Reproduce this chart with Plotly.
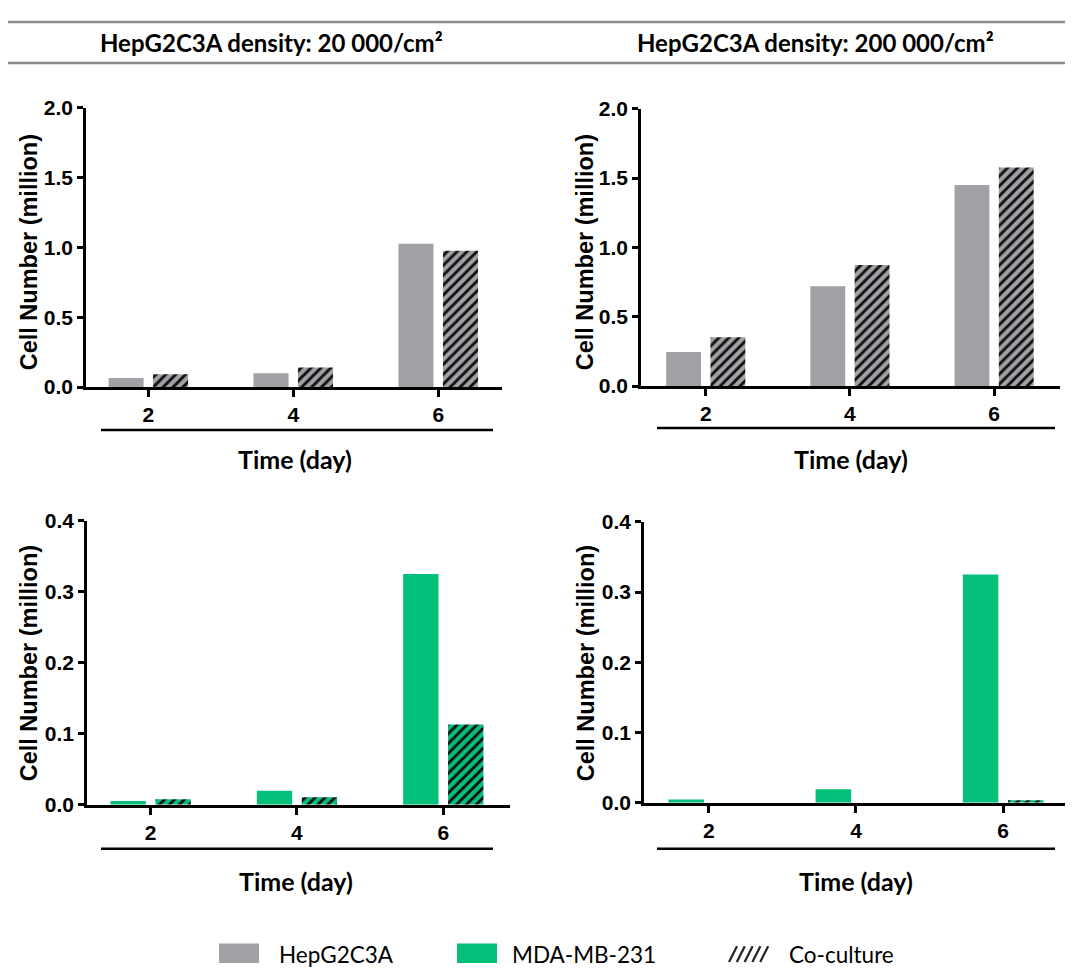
import plotly.graph_objects as go
from plotly.subplots import make_subplots

# page body keeps its default 8px margin, so the figure is drawn 8px in
W, H = 1057, 963
OFF = 8

days = ["2", "4", "6"]

# HepG2C3A cell number (million)
hep_mono_20k = [0.065, 0.098, 1.026]
hep_co_20k = [0.091, 0.140, 0.977]
hep_mono_200k = [0.246, 0.720, 1.450]
hep_co_200k = [0.352, 0.873, 1.577]

# MDA-MB-231 cell number (million)
mda_mono_20k = [0.0055, 0.0198, 0.325]
mda_co_20k = [0.0078, 0.0106, 0.113]
mda_mono_200k = [0.0046, 0.0194, 0.325]
mda_co_200k = [0.0, 0.0, 0.0037]

panel_titles = ["HepG2C3A density: 20 000/cm²", "HepG2C3A density: 200 000/cm²"]
legend_names = ["HepG2C3A", "MDA-MB-231", "Co-culture"]

GRAY = "#A1A1A6"
GREEN = "#05C07A"
ARIAL = "Liberation Sans"
CAL = "Lato"


def px(x):
    return (x - OFF) / W


def py(y):
    return 1 - (y - OFF) / H


fig = make_subplots(rows=2, cols=2)

panels = [
    (1, 1, hep_mono_20k, hep_co_20k, GRAY),
    (1, 2, hep_mono_200k, hep_co_200k, GRAY),
    (2, 1, mda_mono_20k, mda_co_20k, GREEN),
    (2, 2, mda_mono_200k, mda_co_200k, GREEN),
]

for row, col, mono, co, color in panels:
    fig.add_trace(
        go.Bar(x=days, y=mono, marker=dict(color=color, line=dict(width=0)),
               showlegend=False),
        row=row, col=col
    )
    fig.add_trace(
        go.Bar(x=days, y=co,
               marker=dict(color=color, line=dict(width=0),
                           pattern=dict(shape="/", fgcolor="#111111", bgcolor=color,
                                        size=7, solidity=0.42, fillmode="replace")),
               showlegend=False),
        row=row, col=col
    )

# pixel geometry of each panel: (x0, x1, y_top, y_bottom, xrange, ymax, dtick)
geom = {
    (1, 1): (86, 502, 98, 384, [-0.43, 2.44], 2.0, 0.5),
    (1, 2): (641, 1060, 99, 383, [-0.449, 2.457], 2.0, 0.5),
    (2, 1): (87, 510, 521, 812, [-0.435, 2.456], 0.4, 0.1),
    (2, 2): (644, 1065, 522, 810, [-0.44, 2.42], 0.4, 0.1),
}

for (row, col), (x0, x1, yt, yb, xr, ymax, dt) in geom.items():
    fig.update_xaxes(
        domain=[px(x0), px(x1)], range=xr, type="category",
        showline=True, linecolor="black", linewidth=2.5,
        ticks="outside", ticklen=7, tickwidth=2.5, tickcolor="black",
        tickfont=dict(family=ARIAL, size=21, color="black", weight="bold"),
        showgrid=False, zeroline=False,
        row=row, col=col
    )
    fig.update_yaxes(
        domain=[py(yb), py(yt)], range=[0, ymax], dtick=dt, tickformat=".1f",
        showline=True, linecolor="black", linewidth=2.5,
        ticks="outside", ticklen=6, tickwidth=2.5, tickcolor="black",
        tickfont=dict(family=ARIAL, size=21, color="black", weight="bold"),
        showgrid=False, zeroline=False,
        row=row, col=col
    )

shapes = []
# header rules
for yy in [10, 52]:
    shapes.append(dict(type="line", xref="paper", yref="paper",
                       x0=px(8), x1=px(1065), y0=py(yy), y1=py(yy),
                       line=dict(color="#8A8A8A", width=2.5)))
# lines under the day ticks
for xa, xb, yy in [(101, 493, 428), (657, 1055, 426), (101, 493, 857), (657, 1055, 857)]:
    shapes.append(dict(type="line", xref="paper", yref="paper",
                       x0=px(xa), x1=px(xb), y0=py(yy), y1=py(yy),
                       line=dict(color="black", width=2.5)))
# legend swatches
for xa, c in [(219, GRAY), (457, GREEN)]:
    shapes.append(dict(type="rect", xref="paper", yref="paper",
                       x0=px(xa), x1=px(xa + 40), y0=py(974), y1=py(954),
                       fillcolor=c, line=dict(width=0)))
for i in range(5):
    xa = 729 + i * 7.8
    shapes.append(dict(type="line", xref="paper", yref="paper",
                       x0=px(xa), x1=px(xa + 8), y0=py(973), y1=py(957),
                       line=dict(color="#222222", width=2.2)))

annotations = []
for txt, xc in zip(panel_titles, [271, 815]):
    annotations.append(dict(text=txt, x=px(xc), y=py(31), xref="paper", yref="paper",
                            showarrow=False, xanchor="center", yanchor="middle",
                            font=dict(family=CAL, size=24, color="black", weight="bold")))
for xc, yc in [(29, 246), (585, 246), (29, 667), (586, 667)]:
    annotations.append(dict(text="Cell Number (million)", x=px(xc), y=py(yc),
                            xref="paper", yref="paper", textangle=-90,
                            showarrow=False, xanchor="center", yanchor="middle",
                            font=dict(family=ARIAL, size=23.5, color="black", weight="bold")))
for xc, yc in [(295, 458), (851, 458), (296, 890), (856, 890)]:
    annotations.append(dict(text="Time (day)", x=px(xc), y=py(yc),
                            xref="paper", yref="paper",
                            showarrow=False, xanchor="center", yanchor="middle",
                            font=dict(family=CAL, size=25, color="black", weight="bold")))
for txt, xl in zip(legend_names, [277, 510, 787]):
    annotations.append(dict(text=txt, x=px(xl), y=py(965), xref="paper", yref="paper",
                            showarrow=False, xanchor="left", yanchor="middle",
                            font=dict(family=CAL, size=22.5, color="black")))

fig.update_layout(
    width=W, height=H,
    margin=dict(l=0, r=0, t=0, b=0),
    paper_bgcolor="white", plot_bgcolor="white",
    barmode="group", bargap=0.386, bargroupgap=0.213,
    shapes=shapes, annotations=annotations,
    showlegend=False,
)

fig.write_html("out.html")
